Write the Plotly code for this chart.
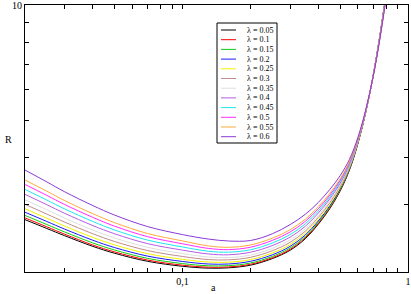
import plotly.graph_objects as go

# ---- data ----
a_vals = [0.02, 0.025, 0.03, 0.04, 0.05, 0.07, 0.1, 0.13, 0.16, 0.2, 0.25, 0.3,
          0.35, 0.4, 0.45, 0.5, 0.55, 0.6, 0.65, 0.7, 0.75, 0.8]

lambdas = ["0.05", "0.1", "0.15", "0.2", "0.25", "0.3", "0.35", "0.4", "0.45", "0.5", "0.55", "0.6"]

R_005 = [2.742, 2.600, 2.489, 2.334, 2.239, 2.133, 2.070, 2.047, 2.051, 2.084, 2.168, 2.280, 2.443, 2.667, 2.931, 3.258, 3.698, 4.345, 5.248, 6.501, 8.279, 10.715]
R_010 = [2.771, 2.626, 2.512, 2.353, 2.257, 2.149, 2.084, 2.059, 2.062, 2.095, 2.179, 2.292, 2.456, 2.679, 2.943, 3.269, 3.707, 4.351, 5.250, 6.500, 8.273, 10.705]
R_015 = [2.813, 2.663, 2.546, 2.383, 2.283, 2.171, 2.104, 2.076, 2.078, 2.111, 2.196, 2.311, 2.474, 2.697, 2.960, 3.284, 3.719, 4.359, 5.254, 6.498, 8.266, 10.690]
R_020 = [2.868, 2.712, 2.590, 2.422, 2.317, 2.201, 2.131, 2.099, 2.099, 2.133, 2.218, 2.334, 2.498, 2.720, 2.982, 3.304, 3.734, 4.369, 5.259, 6.497, 8.256, 10.671]
R_025 = [2.928, 2.766, 2.638, 2.463, 2.355, 2.234, 2.159, 2.124, 2.122, 2.155, 2.242, 2.359, 2.524, 2.745, 3.006, 3.325, 3.752, 4.380, 5.264, 6.494, 8.245, 10.651]
R_030 = [3.008, 2.836, 2.702, 2.519, 2.404, 2.276, 2.196, 2.156, 2.152, 2.185, 2.274, 2.392, 2.557, 2.778, 3.037, 3.353, 3.773, 4.395, 5.271, 6.492, 8.231, 10.624]
R_035 = [3.090, 2.910, 2.767, 2.575, 2.455, 2.320, 2.235, 2.189, 2.182, 2.215, 2.306, 2.426, 2.592, 2.811, 3.069, 3.381, 3.795, 4.409, 5.277, 6.489, 8.218, 10.596]
R_040 = [3.194, 3.001, 2.849, 2.646, 2.518, 2.373, 2.282, 2.230, 2.219, 2.253, 2.345, 2.467, 2.634, 2.852, 3.108, 3.415, 3.822, 4.427, 5.285, 6.486, 8.201, 10.564]
R_045 = [3.291, 3.086, 2.925, 2.712, 2.576, 2.424, 2.326, 2.267, 2.254, 2.287, 2.382, 2.506, 2.673, 2.889, 3.144, 3.447, 3.847, 4.443, 5.293, 6.483, 8.186, 10.535]
R_050 = [3.391, 3.174, 3.004, 2.780, 2.636, 2.475, 2.371, 2.306, 2.289, 2.322, 2.419, 2.545, 2.713, 2.927, 3.181, 3.478, 3.872, 4.459, 5.300, 6.480, 8.171, 10.505]
R_055 = [3.483, 3.255, 3.076, 2.842, 2.692, 2.522, 2.412, 2.341, 2.321, 2.354, 2.452, 2.580, 2.749, 2.962, 3.214, 3.508, 3.894, 4.474, 5.306, 6.477, 8.157, 10.478]
R_060 = [3.698, 3.443, 3.244, 2.985, 2.818, 2.630, 2.506, 2.440, 2.411, 2.418, 2.518, 2.661, 2.831, 3.041, 3.289, 3.573, 3.945, 4.507, 5.321, 6.471, 8.127, 10.419]

series = [R_005, R_010, R_015, R_020, R_025, R_030, R_035, R_040, R_045, R_050, R_055, R_060]

x_major_vals = [0.1, 1]
x_major_text = ["0,1", "1"]
x_minor_vals = [0.03, 0.04, 0.05, 0.06, 0.07, 0.08, 0.09, 0.2, 0.3, 0.4, 0.5, 0.6, 0.7, 0.8, 0.9]
y_major_vals = [10]
y_major_text = ["10"]
y_minor_vals = [3, 4, 5, 6, 7, 8, 9]

# ---- styles ----
colors = ["#000000", "#ff0000", "#11cc11", "#1a1aff", "#f2f200", "#c08c8c",
          "#dedede", "#b45ce6", "#1ee6ee", "#ff2cff", "#ffaa3c", "#8a3ad6"]

W, H = 411, 294
ML, MR, MT, MB = 25, 3, 5, 22
PW, PH = W - ML - MR, H - MT - MB
FONT = "Liberation Serif"

def px_x(px):
    return (px - ML) / PW

def px_y(py):
    return 1 - (py - MT) / PH

fig = go.Figure()
for lam, ys, c in zip(lambdas, series, colors):
    fig.add_trace(go.Scatter(x=a_vals, y=ys, mode="lines", name="λ = " + lam,
                             line=dict(color=c, width=1, shape="spline", smoothing=1.0),
                             showlegend=False))

axis_common = dict(showgrid=False, zeroline=False, showline=True, linecolor="black",
                   linewidth=1, mirror="allticks", ticks="inside", ticklen=4,
                   tickcolor="black", tickwidth=1, automargin=False,
                   ticklabeloverflow="allow",
                   tickfont=dict(family=FONT, size=10, color="black"))

fig.update_xaxes(type="log", range=[-1.69897, 0.0002], tickmode="array",
                 tickvals=x_major_vals, ticktext=x_major_text,
                 minor=dict(tickvals=x_minor_vals, ticks="inside", ticklen=4,
                            tickcolor="black", tickwidth=1, showgrid=False),
                 **axis_common)
fig.update_yaxes(type="log", range=[0.30103, 1.0002], tickmode="array",
                 tickvals=y_major_vals, ticktext=y_major_text,
                 minor=dict(tickvals=y_minor_vals, ticks="inside", ticklen=4,
                            tickcolor="black", tickwidth=1, showgrid=False),
                 **axis_common)

shapes = []
annotations = []
# legend box
bx0, bx1, by0, by1 = 217, 277, 23, 143
shapes.append(dict(type="rect", xref="paper", yref="paper",
                   x0=px_x(bx0), x1=px_x(bx1), y0=px_y(by1), y1=px_y(by0),
                   line=dict(color="black", width=1), fillcolor="white"))
for i, (lam, c) in enumerate(zip(lambdas, colors)):
    yy = 30 + i * 9.7
    shapes.append(dict(type="line", xref="paper", yref="paper",
                       x0=px_x(221), x1=px_x(236), y0=px_y(yy), y1=px_y(yy),
                       line=dict(color=c, width=1)))
    annotations.append(dict(xref="paper", yref="paper", x=px_x(245), y=px_y(yy),
                            text="λ = " + lam, showarrow=False, xanchor="left",
                            yanchor="middle",
                            font=dict(family=FONT, size=8, color="black")))

annotations.append(dict(xref="paper", yref="paper", x=px_x(213), y=px_y(287),
                        text="a", showarrow=False, xanchor="center", yanchor="middle",
                        font=dict(family=FONT, size=10, color="black")))
annotations.append(dict(xref="paper", yref="paper", x=px_x(8), y=px_y(139),
                        text="R", showarrow=False, xanchor="center", yanchor="middle",
                        font=dict(family=FONT, size=10, color="black")))

fig.update_layout(width=W, height=H, margin=dict(l=ML, r=MR, t=MT, b=MB),
                  paper_bgcolor="white", plot_bgcolor="white",
                  separators=",.", showlegend=False,
                  shapes=shapes, annotations=annotations,
                  font=dict(family=FONT, size=10, color="black"))

fig.write_html("out.html", config={"displayModeBar": False},
               post_script="document.body.style.margin='0';document.body.style.padding='0';")
